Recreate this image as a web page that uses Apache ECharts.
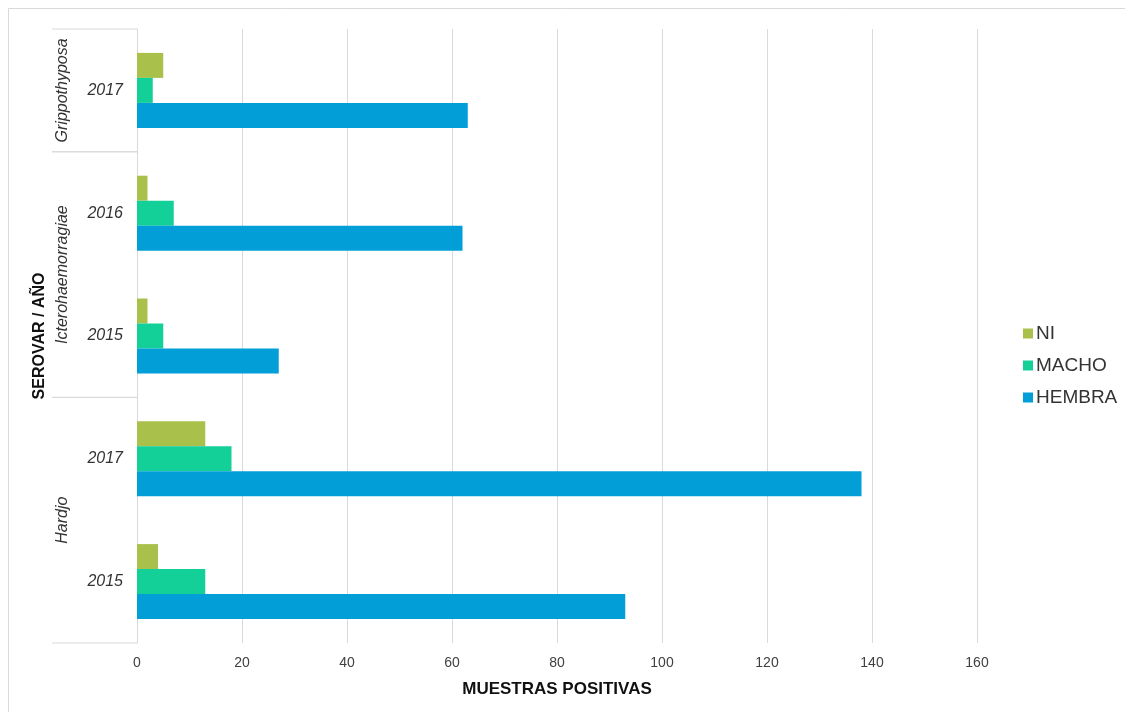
<!DOCTYPE html>
<html>
<head>
<meta charset="utf-8">
<script src="https://cdn.jsdelivr.net/npm/echarts@6/dist/echarts.min.js"></script>
<style>
  html, body { margin: 0; padding: 0; background: #fff; }
  #chart { width: 1125px; height: 712px; }
</style>
</head>
<body>
<div id="chart"></div>
<script>
// Categories, bottom to top on the vertical axis
const serovars = ['Hardjo', 'Hardjo', 'Icterohaemorragiae', 'Icterohaemorragiae', 'Grippothyposa'];
const years = ['2015', '2017', '2015', '2016', '2017'];

// Positive samples by sex
const ni = [4, 13, 2, 2, 5];
const macho = [13, 18, 5, 7, 3];
const hembra = [93, 138, 27, 62, 63];

// Value axis ticks
const xMin = 0;
const xMax = 160;
const xStep = 20;

// Serovar groups as first and last category index
const groups = [
  { name: 'Hardjo', from: 0, to: 1 },
  { name: 'Icterohaemorragiae', from: 2, to: 3 },
  { name: 'Grippothyposa', from: 4, to: 4 }
];

const categoryIds = years.map((y, i) => serovars[i] + ' ' + y);

const sans = "'Liberation Sans', Arial, sans-serif";
const gridColor = '#d9d9d9';

const chart = echarts.init(document.getElementById('chart'));

chart.setOption({
  animation: false,
  backgroundColor: '#fff',
  graphic: [{
    type: 'rect',
    shape: { x: 8.5, y: 8.5, width: 1140, height: 720 },
    style: { fill: 'none', stroke: gridColor, lineWidth: 1 },
    silent: true
  }],
  grid: { left: 137, right: 148, top: 29, bottom: 69, containLabel: false },
  legend: {
    orient: 'vertical',
    left: 1018,
    top: 319,
    data: ['NI', 'MACHO', 'HEMBRA'],
    icon: 'rect',
    itemWidth: 10,
    itemHeight: 10,
    itemGap: 13,
    textStyle: { fontFamily: sans, fontSize: 19, color: '#333', padding: [0, 0, 0, -2] }
  },
  xAxis: {
    type: 'value',
    min: xMin,
    max: xMax,
    interval: xStep,
    name: 'MUESTRAS POSITIVAS',
    nameLocation: 'middle',
    nameGap: 38,
    nameTextStyle: { fontFamily: sans, fontWeight: 'bold', fontSize: 17, color: '#111' },
    axisLine: { show: false },
    axisTick: { show: false },
    axisLabel: { fontFamily: sans, fontSize: 14, color: '#404040', margin: 13 },
    splitLine: { show: true, lineStyle: { color: gridColor, width: 1 } }
  },
  yAxis: {
    type: 'category',
    data: categoryIds,
    name: 'SEROVAR / AÑO',
    nameLocation: 'middle',
    nameGap: 89,
    nameRotate: 90,
    nameTextStyle: { fontFamily: sans, fontWeight: 'bold', fontSize: 16, color: '#111' },
    axisLine: { show: true, lineStyle: { color: gridColor, width: 1 } },
    axisTick: { show: false },
    axisLabel: {
      fontFamily: sans, fontStyle: 'italic', fontSize: 16, color: '#333', margin: 14,
      formatter: (v, i) => years[i]
    },
    splitLine: { show: false }
  },
  series: [
    {
      name: 'NI', type: 'bar', data: ni, barWidth: 25, barGap: '0%',
      itemStyle: { color: '#a9c14b' }
    },
    {
      name: 'MACHO', type: 'bar', data: macho, barWidth: 25, barGap: '0%',
      itemStyle: { color: '#13cf98' }
    },
    {
      name: 'HEMBRA', type: 'bar', data: hembra, barWidth: 25, barGap: '0%',
      itemStyle: { color: '#019ed7' }
    },
    {
      // Serovar group labels and separators beside the year labels
      name: 'groups',
      type: 'custom',
      silent: true,
      clip: false,
      data: groups.map(g => [0, g.from, g.to]),
      encode: { x: 0, y: [1, 2] },
      renderItem: (params, api) => {
        const g = groups[params.dataIndex];
        const band = api.size([0, 1])[1];
        const start = api.coord([0, g.from]);
        const bottom = start[1] + band / 2;
        const top = api.coord([0, g.to])[1] - band / 2;
        const x0 = start[0] - 85;
        const x1 = start[0];
        const lineStyle = { stroke: gridColor, lineWidth: 1 };
        return {
          type: 'group',
          children: [
            { type: 'line', shape: { x1: x0, y1: top, x2: x1, y2: top }, style: lineStyle },
            { type: 'line', shape: { x1: x0, y1: bottom, x2: x1, y2: bottom }, style: lineStyle },
            {
              type: 'text',
              x: x0 + 11,
              y: (top + bottom) / 2,
              rotation: Math.PI / 2,
              style: {
                text: g.name,
                fontFamily: sans,
                fontStyle: 'italic',
                fontSize: 16,
                fill: '#333',
                align: 'center',
                verticalAlign: 'middle'
              }
            }
          ]
        };
      }
    }
  ]
});
</script>
</body>
</html>
